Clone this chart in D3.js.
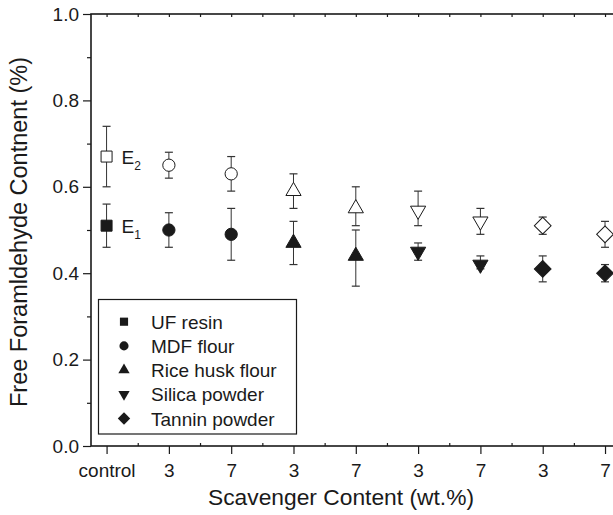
<!DOCTYPE html>
<html>
<head>
<meta charset="utf-8">
<script src="https://cdn.jsdelivr.net/npm/d3@7"></script>
<style>
  body { margin: 0; background: #fff; }
  svg { display: block; font-family: "Liberation Sans", Arial, sans-serif; }
</style>
</head>
<body>
<svg id="canvas" width="613" height="515"></svg>
<script>

// categories on x axis (index order)
const tickLabels = ['control', '3', '7', '3', '7', '3', '7', '3', '7']
const shapes = ['square', 'circle', 'circle', 'triangle', 'triangle', 'down', 'down', 'diamond', 'diamond']

// E1 (filled markers)
const e1Values = [0.51, 0.50, 0.49, 0.47, 0.44, 0.45, 0.42, 0.41, 0.40]
const e1Upper  = [0.56, 0.54, 0.55, 0.52, 0.50, 0.47, 0.44, 0.44, 0.42]
const e1Lower  = [0.46, 0.46, 0.43, 0.42, 0.37, 0.43, 0.41, 0.38, 0.38]

// E2 (open markers)
const e2Values = [0.67, 0.65, 0.63, 0.59, 0.55, 0.545, 0.52, 0.51, 0.49]
const e2Upper  = [0.74, 0.68, 0.67, 0.63, 0.60, 0.59, 0.55, 0.53, 0.52]
const e2Lower  = [0.60, 0.62, 0.59, 0.55, 0.51, 0.51, 0.49, 0.49, 0.46]

const yMajor = [0, 0.2, 0.4, 0.6, 0.8, 1.0]
const yMinor = [0.1, 0.3, 0.5, 0.7, 0.9]

const legendNames = ['UF resin', 'MDF flour', 'Rice husk flour', 'Silica powder', 'Tannin powder']
const legendShapes = ['square', 'circle', 'triangle', 'down', 'diamond']

let canvas = d3.select('#canvas')

const padLeft = 91, padRight = 620.6, padTop = 14, padBottom = 446

let xScale = d3.scaleLinear().domain([-0.25, 8.25]).range([padLeft, padRight])
let yScale = d3.scaleLinear().domain([0, 1]).range([padBottom, padTop])

const ink = '#1a1a1a'

const symbolPath = (shape, scale) => {
    let s = scale || 1
    if (shape === 'square') return d3.symbol(d3.symbolSquare, 121 * s)()
    if (shape === 'circle') return d3.symbol(d3.symbolCircle, 118 * s)()
    if (shape === 'triangle' || shape === 'down') return d3.symbol(d3.symbolTriangle, 100 * s)()
    if (shape === 'diamond') return d3.symbol(d3.symbolSquare, 140 * s)()
}
const symbolRotate = (shape) => {
    if (shape === 'down') return 180
    if (shape === 'diamond') return 45
    return 0
}

// axes frame
let axisG = canvas.append('g')

axisG.append('g')
    .attr('transform', 'translate(0,' + padBottom + ')')
    .call(d3.axisBottom(xScale).tickValues(d3.range(0, 9)).tickSize(8).tickFormat((d) => tickLabels[d]).tickPadding(10))
    .call(g => g.select('.domain').remove())
axisG.append('g')
    .attr('transform', 'translate(0,' + padBottom + ')')
    .call(d3.axisTop(xScale).tickValues(d3.range(0.5, 8, 1)).tickSize(3).tickFormat(''))
    .call(g => g.select('.domain').remove())
axisG.append('g')
    .attr('transform', 'translate(0,' + padTop + ')')
    .call(d3.axisBottom(xScale).tickValues(d3.range(0, 8.6, 0.5)).tickSize(3).tickFormat(''))
    .call(g => g.select('.domain').remove())

axisG.append('g')
    .attr('transform', 'translate(' + padLeft + ',0)')
    .call(d3.axisLeft(yScale).tickValues(yMajor).tickSize(8).tickFormat(d3.format('.1f')).tickPadding(4))
    .call(g => g.select('.domain').remove())
axisG.append('g')
    .attr('transform', 'translate(' + padLeft + ',0)')
    .call(d3.axisLeft(yScale).tickValues(yMinor).tickSize(4).tickFormat(''))
    .call(g => g.select('.domain').remove())

axisG.selectAll('.tick line').attr('stroke', ink).attr('stroke-width', 1.2)
axisG.selectAll('.tick text').attr('fill', ink).style('font-size', '19px').style('font-family', '"Liberation Sans", Arial, sans-serif')

canvas.append('rect')
    .attr('x', padLeft).attr('y', padTop)
    .attr('width', padRight - padLeft).attr('height', padBottom - padTop)
    .attr('fill', 'none').attr('stroke', ink).attr('stroke-width', 1.6)

// error bars + markers
const drawSeries = (values, upper, lower, filled) => {
    let g = canvas.append('g')
    values.forEach((v, i) => {
        let x = xScale(i)
        g.append('line')
            .attr('x1', x).attr('x2', x)
            .attr('y1', yScale(upper[i])).attr('y2', yScale(lower[i]))
            .attr('stroke', '#333').attr('stroke-width', 1)
        ;[upper[i], lower[i]].forEach((e) => {
            g.append('line')
                .attr('x1', x - 4).attr('x2', x + 4)
                .attr('y1', yScale(e)).attr('y2', yScale(e))
                .attr('stroke', '#333').attr('stroke-width', 1.2)
        })
    })
    g.selectAll('path.mark')
        .data(values)
        .enter()
        .append('path')
        .attr('class', 'mark')
        .attr('d', (d, i) => symbolPath(shapes[i]))
        .attr('transform', (d, i) => 'translate(' + xScale(i) + ',' + yScale(d) + ') rotate(' + symbolRotate(shapes[i]) + ')')
        .attr('fill', filled ? ink : '#fff')
        .attr('stroke', ink)
        .attr('stroke-width', 1)
}
drawSeries(e2Values, e2Upper, e2Lower, false)
drawSeries(e1Values, e1Upper, e1Lower, true)

// E1 / E2 labels
const eLabel = (name, sub, v) => {
    let t = canvas.append('text')
        .attr('x', xScale(0) + 15).attr('y', yScale(v) + 7)
        .attr('fill', ink).style('font-size', '19px')
    t.append('tspan').text(name)
    t.append('tspan').attr('dy', 6).style('font-size', '12px').text(sub)
}
eLabel('E', '2', e2Values[0])
eLabel('E', '1', e1Values[0])

// legend
let legend = canvas.append('g')
legend.append('rect')
    .attr('x', 98.5).attr('y', 299.5).attr('width', 198).attr('height', 134.5)
    .attr('fill', '#fff').attr('stroke', ink).attr('stroke-width', 1.2)
legendNames.forEach((name, i) => {
    let y = 321.7 + i * 24.2
    legend.append('path')
        .attr('d', symbolPath(legendShapes[i], 0.55))
        .attr('transform', 'translate(124,' + y + ') rotate(' + symbolRotate(legendShapes[i]) + ')')
        .attr('fill', ink)
    legend.append('text')
        .attr('x', 151).attr('y', y + 7)
        .attr('fill', ink).style('font-size', '19px')
        .text(name)
})

// axis titles
canvas.append('text')
    .attr('x', 341).attr('y', 505)
    .attr('text-anchor', 'middle').attr('fill', ink)
    .style('font-size', '22.8px')
    .text('Scavenger Content (wt.%)')

canvas.append('text')
    .attr('transform', 'translate(27,232) rotate(-90)')
    .attr('text-anchor', 'middle').attr('fill', ink)
    .style('font-size', '23.5px')
    .text('Free Foramldehyde Contnent (%)')
</script>
</body>
</html>
